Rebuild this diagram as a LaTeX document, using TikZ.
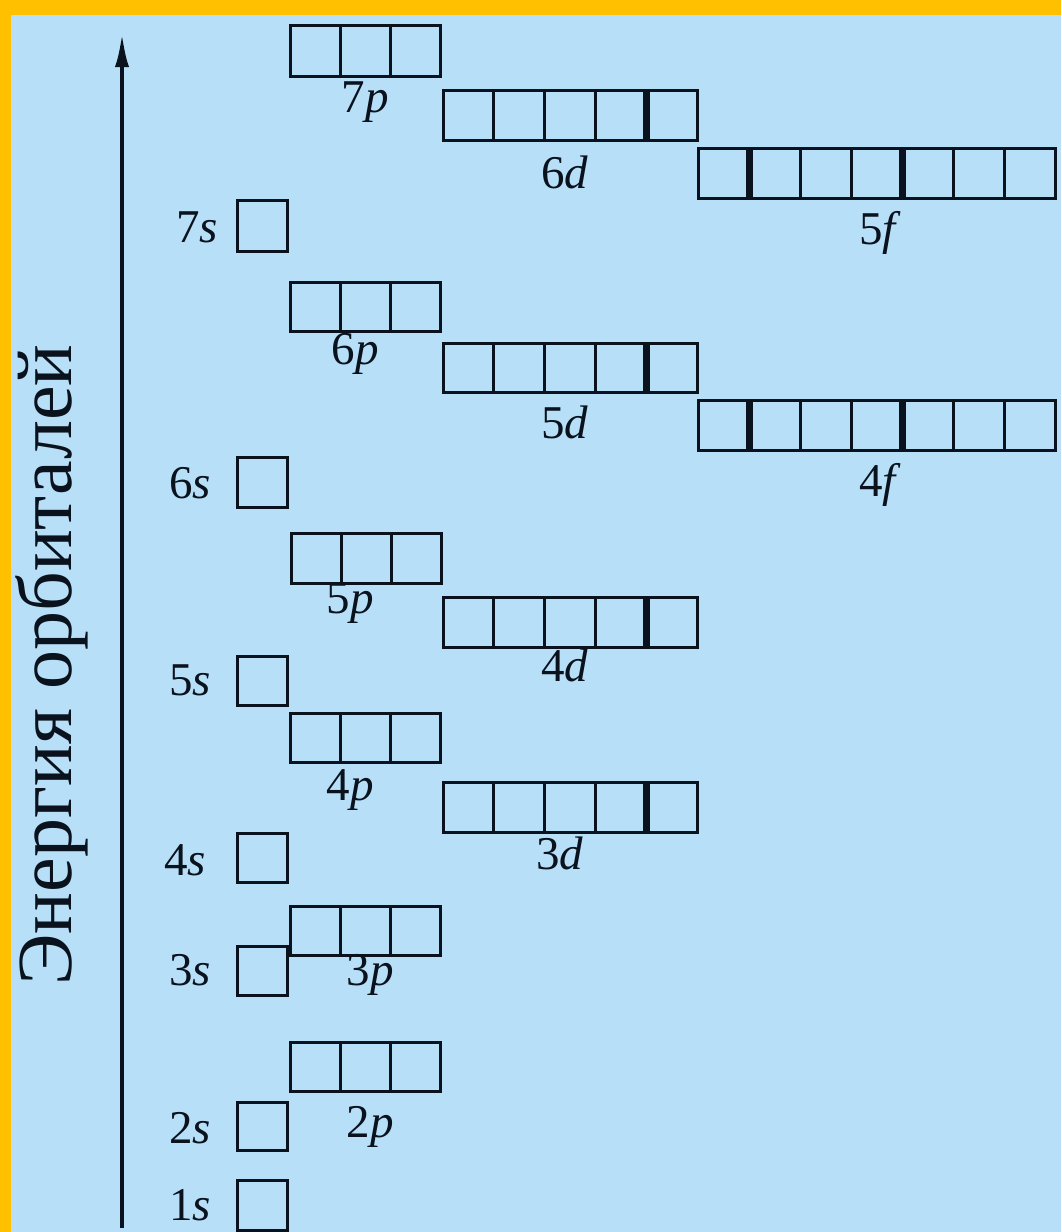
\documentclass[tikz,border=0pt]{standalone}
\usepackage{fontspec}
\setmainfont{Liberation Serif}
\usetikzlibrary{arrows.meta,calc}
\definecolor{bgblue}{RGB}{183,224,248}
\definecolor{frameorange}{RGB}{255,192,0}
\definecolor{ink}{RGB}{10,18,30}
\tikzset{
  orbbox/.style={draw=ink, line width=3pt, inner sep=0pt, outer sep=0pt, anchor=north west},
  cellline/.style={draw=ink, line width=3pt},
  thickline/.style={draw=ink, line width=7pt},
  lbl/.style={font=\fontsize{47}{50}\selectfont, text=ink, inner sep=0pt},
  axisarrow/.style={draw=ink, line width=4pt, -{Latex[length=34pt,width=14pt]}},
  axislabel/.style={font=\fontsize{78}{84}\selectfont, text=ink, rotate=90, inner sep=0pt}
}
% \orbital{name}{x}{ytop}{ybottom}{cells}{cellwidth}{list of thick dividers}
\newcommand{\orbital}[7]{%
  \node[orbbox, minimum width={#5*#6 pt}, minimum height={(#4-#3)*1pt}] (#1) at (#2,#3) {};
  \ifnum#5>1
    \foreach \k in {1,...,\numexpr#5-1\relax}{%
      \draw[cellline] ($(#1.north west)+(\k*#6 pt,0)$) -- ($(#1.south west)+(\k*#6 pt,0)$);
    }
  \fi
  \foreach \k in {#7}{%
    \ifnum\k>0
      \draw[thickline] ($(#1.north west)+(\k*#6 pt,0)$) -- ($(#1.south west)+(\k*#6 pt,0)$);
    \fi
  }%
}
\begin{document}
\begin{tikzpicture}[x=1pt,y=-1pt]
\useasboundingbox (0,0) rectangle (1061,1232);
\fill[frameorange] (0,0) rectangle (1061,1232);
\fill[bgblue] (11,15) rectangle (1061,1232);

% axis
\coordinate (axbot) at (122,1228);
\coordinate (axtop) at (122,33);
\draw[axisarrow] (axbot) -- (axtop);
\node[axislabel] (axlbl) at (52,665) {Энергия орбиталей};

% orbitals
\orbital{o7p}{290}{25}{76}{3}{50}{0}
\orbital{o6d}{443}{90}{140}{5}{50.8}{4}
\orbital{o5f}{698}{148}{198}{7}{51}{1,4}
\orbital{o7s}{237}{200}{251}{1}{50}{0}
\orbital{o6p}{290}{282}{331}{3}{50}{0}
\orbital{o5d}{443}{343}{392}{5}{50.8}{4}
\orbital{o4f}{698}{400}{450}{7}{51}{1,4}
\orbital{o6s}{237}{457}{507}{1}{50}{0}
\orbital{o5p}{291}{533}{583}{3}{50}{0}
\orbital{o4d}{443}{597}{647}{5}{50.8}{4}
\orbital{o5s}{237}{656}{705}{1}{50}{0}
\orbital{o4p}{290}{713}{762}{3}{50}{0}
\orbital{o3d}{443}{782}{832}{5}{50.8}{4}
\orbital{o4s}{237}{833}{882}{1}{50}{0}
\orbital{o3p}{290}{906}{955}{3}{50}{0}
\orbital{o3s}{237}{946}{995}{1}{50}{0}
\orbital{o2p}{290}{1042}{1091}{3}{50}{0}
\orbital{o2s}{237}{1102}{1150}{1}{50}{0}
\orbital{o1s}{237}{1180}{1230}{1}{50}{0}

% labels
\node[lbl] (l7p) at (365,102) {7\textit{p}};
\node[lbl] (l6d) at (565,172) {6\textit{d}};
\node[lbl] (l5f) at (880,233) {5\textit{f}};
\node[lbl] (l7s) at (197,227) {7\textit{s}};
\node[lbl] (l6p) at (355,354) {6\textit{p}};
\node[lbl] (l5d) at (565,422) {5\textit{d}};
\node[lbl] (l4f) at (880,485) {4\textit{f}};
\node[lbl] (l6s) at (190,483) {6\textit{s}};
\node[lbl] (l5p) at (350,603) {5\textit{p}};
\node[lbl] (l4d) at (565,665) {4\textit{d}};
\node[lbl] (l5s) at (190,680) {5\textit{s}};
\node[lbl] (l4p) at (350,790) {4\textit{p}};
\node[lbl] (l3d) at (560,853) {3\textit{d}};
\node[lbl] (l4s) at (185,860) {4\textit{s}};
\node[lbl] (l3p) at (370,975) {3\textit{p}};
\node[lbl] (l3s) at (190,970) {3\textit{s}};
\node[lbl] (l2p) at (370,1127) {2\textit{p}};
\node[lbl] (l2s) at (190,1128) {2\textit{s}};
\node[lbl] (l1s) at (190,1205) {1\textit{s}};
\end{tikzpicture}
\end{document}
